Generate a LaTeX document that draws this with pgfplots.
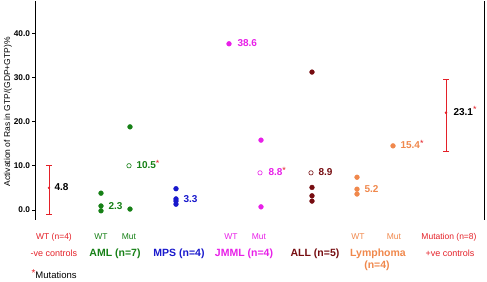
\documentclass[border=0pt]{standalone}
\usepackage{pgfplots}
\pgfplotsset{compat=1.18}
\usepackage{fontspec}
\setmainfont{Liberation Sans}
\definecolor{cred}{RGB}{228,32,40}
\definecolor{cgreen}{RGB}{22,128,22}
\definecolor{cblue}{RGB}{24,24,204}
\definecolor{cmag}{RGB}{232,32,232}
\definecolor{cdred}{RGB}{118,12,16}
\definecolor{corange}{RGB}{240,136,76}
\newcommand{\fs}[1]{\fontsize{#1}{#1}\selectfont}
\newcommand{\rs}{\raisebox{0.45ex}{\textcolor{cred}{\mdseries\fs{9}*}}}
\begin{document}
\begin{tikzpicture}
\begin{axis}[
 scale only axis, width=449pt, height=219pt,
 xmin=35, xmax=484, ymin=-2.26, ymax=47.3,
 separate axis lines,
 x axis line style={draw=none},
 y axis line style={black, line width=0.9pt},
 xtick=\empty,
 ytick={0,10,20,30,40},
 ytick pos=left,
 tick align=outside,
 major tick length=2.5pt,
 tick style={black, line width=0.6pt},
 yticklabel style={font=\bfseries\fs{8.3}, xshift=1pt},
 yticklabel={\pgfmathprintnumber[fixed,fixed zerofill,precision=1,assume math mode=true]{\tick}},
 clip=false,
 every node/.append style={inner sep=0pt},
]
% invisible frame for the bounding box
\path (axis cs:0,-15.61) rectangle (axis cs:487,47.51);

% controls with error bars
\addplot[only marks, cred, mark=*, mark size=1pt,
  error bars/.cd, y dir=both, y explicit,
  error bar style={line width=0.7pt, cred},
  error mark options={rotate=90, cred, mark size=3pt, line width=0.7pt}]
  coordinates {(49,5.0) += (0,5.0) -= (0,6.0) (446,22.0) += (0,7.6) -= (0,8.8)};

% AML
\addplot[only marks, mark=*, mark size=2.4pt, cgreen] coordinates {(101,3.8)(101,0.9)(101,-0.2)(130,18.8)(130,0.2)};
\addplot[only marks, mark=o, mark size=2.2pt, cgreen, mark options={line width=0.6pt}] coordinates {(129,10.0)};
% MPS
\addplot[only marks, mark=*, mark size=2.4pt, cblue] coordinates {(176,4.8)(176,2.5)(176,2.0)(176,1.3)};
% JMML
\addplot[only marks, mark=*, mark size=2.4pt, cmag] coordinates {(229,37.6)(261,15.8)(261,0.7)};
\addplot[only marks, mark=o, mark size=2.2pt, cmag, mark options={line width=0.6pt}] coordinates {(260,8.4)};
% ALL
\addplot[only marks, mark=*, mark size=2.4pt, cdred] coordinates {(312,31.2)(312,5.1)(312,3.2)(312,2.0)};
\addplot[only marks, mark=o, mark size=2.2pt, cdred, mark options={line width=0.6pt}] coordinates {(311,8.4)};
% Lymphoma
\addplot[only marks, mark=*, mark size=2.4pt, corange] coordinates {(357,7.4)(357,4.7)(357,3.6)(393,14.5)};

% value labels
\node[anchor=mid west, font=\bfseries\fs{10}] at (axis cs:51,5.0) {4.8};
\node[anchor=mid west, font=\bfseries\fs{10}, cgreen] at (axis cs:105,0.8) {2.3};
\node[anchor=mid west, font=\bfseries\fs{10}, cgreen] at (axis cs:133,10.0) {10.5\rs};
\node[anchor=mid west, font=\bfseries\fs{10}, cblue] at (axis cs:180,2.2) {3.3};
\node[anchor=mid west, font=\bfseries\fs{10}, cmag] at (axis cs:234,37.6) {38.6};
\node[anchor=mid west, font=\bfseries\fs{10}, cmag] at (axis cs:265,8.4) {8.8\rs};
\node[anchor=mid west, font=\bfseries\fs{10}, cdred] at (axis cs:315,8.4) {8.9};
\node[anchor=mid west, font=\bfseries\fs{10}, corange] at (axis cs:361,4.5) {5.2};
\node[anchor=mid west, font=\bfseries\fs{10}, corange] at (axis cs:397,14.5) {15.4\rs};
\node[anchor=mid west, font=\bfseries\fs{10}] at (axis cs:450,22.0) {23.1\rs};

% y label
\node[rotate=90, font=\fs{8.5}] at (axis cs:8,22.2) {Activation of Ras in GTP/(GDP+GTP)\%};

% category labels, row 1
\node[anchor=base, font=\fs{8.5}, cred] at (axis cs:54,-6.8) {WT (n=4)};
\node[anchor=base, font=\fs{8.5}, cgreen] at (axis cs:101,-6.8) {WT};
\node[anchor=base, font=\fs{8.5}, cgreen] at (axis cs:129,-6.8) {Mut};
\node[anchor=base, font=\fs{8.5}, cmag] at (axis cs:231,-6.8) {WT};
\node[anchor=base, font=\fs{8.5}, cmag] at (axis cs:259,-6.8) {Mut};
\node[anchor=base, font=\fs{8.5}, corange] at (axis cs:358,-6.8) {WT};
\node[anchor=base, font=\fs{8.5}, corange] at (axis cs:394,-6.8) {Mut};
\node[anchor=base, font=\fs{8.5}, cred] at (axis cs:449,-6.8) {Mutation (n=8)};
% row 2
\node[anchor=base, font=\fs{9}, cred] at (axis cs:54,-10.5) {-ve controls};
\node[anchor=base, font=\bfseries\fs{10.5}, cgreen] at (axis cs:115,-10.5) {AML (n=7)};
\node[anchor=base, font=\bfseries\fs{10.5}, cblue] at (axis cs:179,-10.5) {MPS (n=4)};
\node[anchor=base, font=\bfseries\fs{10.5}, cmag] at (axis cs:244,-10.5) {JMML (n=4)};
\node[anchor=base, font=\bfseries\fs{10.5}, cdred] at (axis cs:315,-10.5) {ALL (n=5)};
\node[anchor=base, font=\bfseries\fs{10.5}, corange] at (axis cs:378,-10.5) {Lymphoma};
\node[anchor=base, font=\fs{9}, cred] at (axis cs:450,-10.5) {+ve controls};
% row 3
\node[anchor=base, font=\bfseries\fs{10.5}, corange] at (axis cs:377,-13.2) {(n=4)};
\node[anchor=base west, font=\fs{9.5}] at (axis cs:28,-15.5) {\raisebox{0.45ex}{\textcolor{cred}{\fs{10}*}}Mutations};
\end{axis}
\end{tikzpicture}
\end{document}
